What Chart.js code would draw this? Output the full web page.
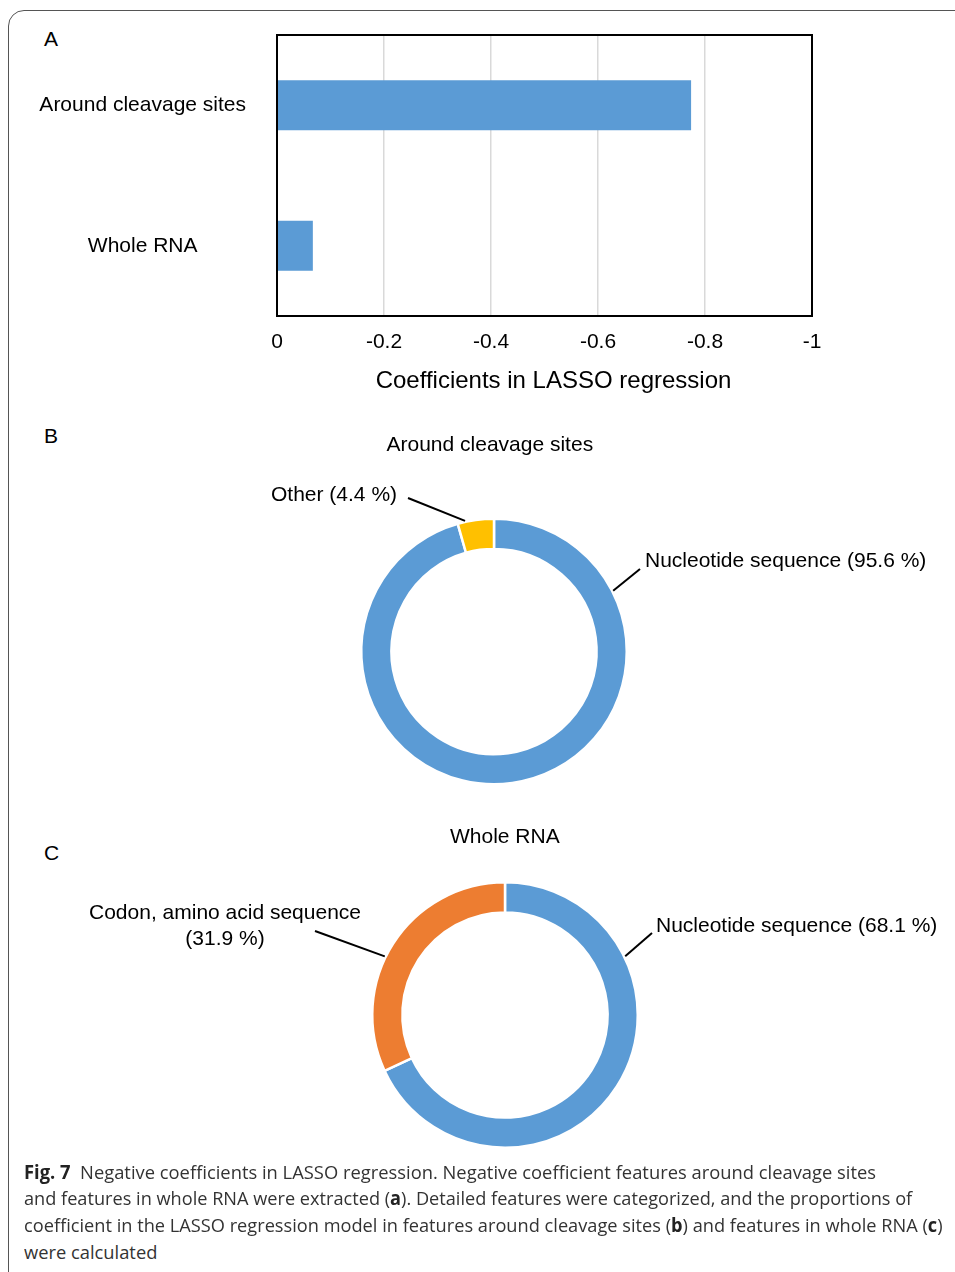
<!DOCTYPE html>
<html>
<head>
<meta charset="utf-8">
<script src="https://cdn.jsdelivr.net/npm/chart.js@4.4.1/dist/chart.umd.min.js"></script>
<style>
  html, body { margin:0; padding:0; background:#fff; }
  body { width:955px; height:1272px; position:relative; overflow:hidden; font-family:"Liberation Sans", Arial, sans-serif; color:#000; }
  .frame { position:absolute; left:8px; top:10px; width:1000px; height:1300px; border:1px solid #555; border-radius:16px; box-sizing:border-box; }
  .t { position:absolute; font-size:21px; line-height:24px; white-space:nowrap; }
  canvas { position:absolute; }
  .cap { position:absolute; left:24px; font-family:"Open Sans", "Noto Sans", sans-serif; font-size:19px; line-height:26px; color:#333; white-space:nowrap; transform-origin:0 50%; }
  .cap b { color:#222; }
</style>
</head>
<body>
<div class="frame"></div>

<div class="t" style="left:44px; top:27px;">A</div>
<div class="t" style="left:44px; top:424px;">B</div>
<div class="t" style="left:44px; top:841px;">C</div>

<canvas id="barA" width="955" height="420" style="left:0;top:0;width:955px;height:420px;"></canvas>
<canvas id="donutB" width="955" height="400" style="left:0;top:420px;width:955px;height:400px;"></canvas>
<canvas id="donutC" width="955" height="380" style="left:0;top:800px;width:955px;height:380px;"></canvas>

<div class="t" id="titleB" style="top:432px;">Around cleavage sites</div>
<div class="t" style="left:271px; top:482px;">Other (4.4 %)</div>
<div class="t" style="left:645px; top:548px;">Nucleotide sequence (95.6 %)</div>

<div class="t" id="titleC" style="top:824px;">Whole RNA</div>
<div class="t" id="codon" style="top:899px; text-align:center; line-height:26px;">Codon, amino acid sequence<br>(31.9 %)</div>
<div class="t" style="left:656px; top:913px;">Nucleotide sequence (68.1 %)</div>

<div class="cap" data-w="852" style="top:1159px;"><b>Fig. 7</b>&nbsp; Negative coefficients in LASSO regression. Negative coefficient features around cleavage sites</div>
<div class="cap" data-w="888" style="top:1185px;">and features in whole RNA were extracted (<b>a</b>). Detailed features were categorized, and the proportions of</div>
<div class="cap" data-w="919" style="top:1212px;">coefficient in the LASSO regression model in features around cleavage sites (<b>b</b>) and features in whole RNA (<b>c</b>)</div>
<div class="cap" data-w="133" style="top:1239px;">were calculated</div>

<script>
// ---------- data ----------
const barCategories = ["Around cleavage sites", "Whole RNA"];
const barValues = [-0.774, -0.067];
const xTickMin = -1;
const xTickMax = 0;
const xTickStep = 0.2;
const xAxisTitle = "Coefficients in LASSO regression";

const donutBLabels = ["Nucleotide sequence", "Other"];
const donutBValues = [95.6, 4.4];
const donutCLabels = ["Nucleotide sequence", "Codon, amino acid sequence"];
const donutCValues = [68.1, 31.9];

const BLUE = "#5B9BD5", YELLOW = "#FFC000", ORANGE = "#ED7D31";
const FONT = "'Liberation Sans', Arial, sans-serif";

// position helpers for HTML titles
function centerAt(id, cx) {
  const el = document.getElementById(id);
  el.style.left = (cx - el.offsetWidth / 2) + "px";
}
centerAt("titleB", 490);
centerAt("titleC", 505);
centerAt("codon", 225);

// caption fitting
document.querySelectorAll(".cap").forEach(el => {
  const w = +el.dataset.w;
  const nat = el.offsetWidth;
  el.style.transform = "scaleX(" + (w / nat) + ")";
});

// ---------- bar chart A ----------
const boxPlugin = {
  id: "box",
  afterDraw(chart) {
    const a = chart.chartArea, ctx = chart.ctx;
    ctx.save();
    ctx.strokeStyle = "#000";
    ctx.lineWidth = 2;
    ctx.strokeRect(a.left, a.top, a.right - a.left, a.bottom - a.top);
    // axis title
    ctx.fillStyle = "#000";
    ctx.font = "24px " + FONT;
    ctx.textAlign = "center";
    ctx.textBaseline = "middle";
    ctx.fillText(xAxisTitle, (a.left + a.right) / 2 + 9, 381);
    ctx.restore();
  }
};

new Chart(document.getElementById("barA"), {
  type: "bar",
  data: {
    labels: barCategories,
    datasets: [{
      data: barValues,
      backgroundColor: BLUE,
      borderWidth: 0,
      categoryPercentage: 1,
      barPercentage: 0.356
    }]
  },
  options: {
    indexAxis: "y",
    responsive: false,
    animation: false,
    layout: { padding: { left: 0, right: 143, top: 35, bottom: 0 } },
    plugins: { legend: { display: false }, tooltip: { enabled: false } },
    scales: {
      x: {
        type: "linear",
        min: xTickMin, max: xTickMax, reverse: true,
        ticks: {
          stepSize: xTickStep,
          color: "#000",
          font: { family: FONT, size: 21 },
          padding: 14,
          maxRotation: 0,
          callback: v => String(Math.round(v * 10) / 10)
        },
        grid: { color: "#D9D9D9", lineWidth: 1.5, drawTicks: false },
        border: { display: false },
        afterFit: s => { s.height = 104; }
      },
      y: {
        type: "category",
        ticks: {
          color: "#000",
          font: { family: FONT, size: 21 },
          crossAlign: "center",
          padding: 31
        },
        grid: { display: false, drawTicks: false },
        border: { display: false },
        afterFit: s => { s.width = 277; s.paddingTop = 0; s.paddingBottom = 0; }
      }
    }
  },
  plugins: [boxPlugin]
});

// ---------- donuts ----------
function leaderPlugin(lines) {
  return {
    id: "leaders",
    afterDraw(chart) {
      const arc = chart.getDatasetMeta(0).data[0];
      const ctx = chart.ctx;
      ctx.save();
      ctx.strokeStyle = "#000";
      ctx.lineWidth = 2;
      lines.forEach(l => {
        const ang = l.deg * Math.PI / 180;
        const r = arc.outerRadius + 1;
        const sx = arc.x + r * Math.sin(ang);
        const sy = arc.y - r * Math.cos(ang);
        ctx.beginPath();
        ctx.moveTo(sx, sy);
        ctx.lineTo(l.ex, l.ey);
        ctx.stroke();
      });
      ctx.restore();
    }
  };
}

function donut(id, labels, values, colors, padding, lines) {
  new Chart(document.getElementById(id), {
    type: "doughnut",
    data: {
      labels: labels,
      datasets: [{
        data: values,
        backgroundColor: colors,
        borderColor: "#fff",
        borderWidth: 2.5,
        hoverOffset: 0
      }]
    },
    options: {
      responsive: false,
      animation: false,
      cutout: "77.3%",
      layout: { padding: padding },
      plugins: { legend: { display: false }, tooltip: { enabled: false } }
    },
    plugins: [leaderPlugin(lines)]
  });
}

// B: center (494, 231.5) in canvas, radius 133
donut("donutB", donutBLabels, donutBValues, [BLUE, YELLOW],
  { left: 360, right: 327, top: 97.5, bottom: 34.5 },
  [ { deg: 63, ex: 640, ey: 149 }, { deg: -12.5, ex: 408, ey: 78 } ]);

// C: center (505, 215) in canvas, radius 133
donut("donutC", donutCLabels, donutCValues, [BLUE, ORANGE],
  { left: 371, right: 316, top: 81, bottom: 31 },
  [ { deg: 64, ex: 652, ey: 133 }, { deg: -64, ex: 315, ey: 131 } ]);
</script>
</body>
</html>
